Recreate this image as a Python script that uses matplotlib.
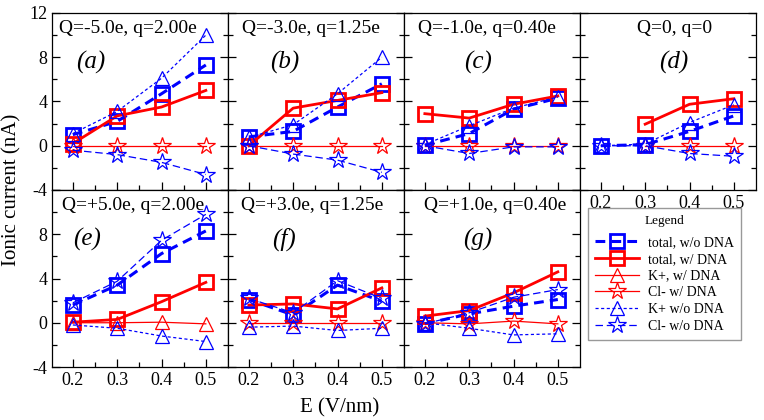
import numpy as np
import matplotlib
matplotlib.use("Agg")
import matplotlib.pyplot as plt

plt.rcParams["font.family"] = "serif"
plt.rcParams["font.serif"] = ["Liberation Serif", "DejaVu Serif"]
plt.rcParams["axes.unicode_minus"] = False

nan = np.nan

# field strength (V/nm)
E = [0.2, 0.3, 0.4, 0.5]

panel_tags = ["(a)", "(b)", "(c)", "(d)", "(e)", "(f)", "(g)"]
charge_labels = ["Q=-5.0e, q=2.00e", "Q=-3.0e, q=1.25e", "Q=-1.0e, q=0.40e", "Q=0, q=0",
                 "Q=+5.0e, q=2.00e", "Q=+3.0e, q=1.25e", "Q=+1.0e, q=0.40e"]

# ionic current (nA), one row per panel a..g
total_wo = [[1.0, 2.2, 4.7, 7.3],
            [0.8, 1.3, 3.5, 5.6],
            [0.05, 1.1, 3.3, 4.3],
            [0.0, 0.1, 1.3, 2.7],
            [1.6, 3.4, 6.25, 8.3],
            [2.1, 0.7, 3.4, 1.95],
            [-0.1, 0.8, 1.5, 2.1]]
total_w = [[0.2, 2.7, 3.5, 5.0],
           [0.0, 3.4, 4.1, 4.8],
           [2.9, 2.5, 3.75, 4.5],
           [nan, 1.95, 3.75, 4.25],
           [0.05, 0.3, 1.9, 3.65],
           [1.6, 1.7, 1.25, 3.15],
           [0.6, 1.1, 2.7, 4.6]]
kplus_w = [[nan] * 4, [nan] * 4, [nan] * 4, [nan] * 4,
           [0.0, 0.0, 0.05, -0.1],
           [nan] * 4, [nan] * 4]
cl_w = [[0.0, 0.0, 0.0, 0.0],
        [0.0, 0.0, 0.0, 0.0],
        [0.0, 0.0, 0.0, 0.0],
        [nan, 0.0, 0.0, 0.0],
        [nan] * 4,
        [0.0, 0.0, 0.0, 0.0],
        [0.0, -0.1, 0.15, -0.1]]
kplus_wo = [[1.1, 3.1, 6.1, 10.0],
            [0.75, 1.9, 4.7, 8.0],
            [0.1, 1.8, 3.4, 4.4],
            [0.0, 0.15, 2.1, 3.7],
            [-0.2, -0.5, -1.2, -1.7],
            [-0.4, -0.3, -0.7, -0.5],
            [0.0, -0.5, -1.1, -1.0]]
cl_wo = [[-0.4, -0.8, -1.5, -2.6],
         [0.0, -0.75, -1.3, -2.4],
         [0.0, -0.7, -0.1, -0.1],
         [0.0, 0.0, -0.7, -0.95],
         [1.8, 3.75, 7.45, 9.8],
         [2.2, 0.9, 3.8, 2.2],
         [-0.1, 0.9, 2.3, 3.0]]

# text placement inside each panel (axes fraction)
charge_x = [0.43, 0.47, 0.47, 0.54, 0.46, 0.48, 0.52]
tag_x = [0.22, 0.32, 0.42, 0.53, 0.20, 0.32, 0.42]

W, H = 764, 420
fig = plt.figure(figsize=(W / 100, H / 100), dpi=100)

left0, colw = 52, 176
rows = [(13, 190), (190, 367)]

blue, red = "#0000ff", "#ff0000"
axes = []
for i in range(7):
    r, c = divmod(i, 4)
    top, bot = rows[r]
    ax = fig.add_axes([(left0 + c * colw) / W, 1 - bot / H, colw / W, (bot - top) / H])
    axes.append(ax)

    h1, = ax.plot(E, total_wo[i], color=blue, lw=2.2, ls=(0, (3.2, 2)), marker="s",
                  ms=9.5, mfc="none", mec=blue, mew=2, label="total, w/o DNA")
    h2, = ax.plot(E, total_w[i], color=red, lw=2.0, ls="-", marker="s",
                  ms=9.5, mfc="none", mec=red, mew=2, label="total, w/ DNA")
    h3, = ax.plot(E, kplus_w[i], color=red, lw=0.9, ls="-", marker="^",
                  ms=10, mfc="none", mec=red, mew=0.9, label="K+, w/ DNA")
    h4, = ax.plot(E, cl_w[i], color=red, lw=0.9, ls="-", marker="*",
                  ms=13, mfc="none", mec=red, mew=0.9, label="Cl- w/ DNA")
    h5, = ax.plot(E, kplus_wo[i], color=blue, lw=0.9, ls=(0, (2.5, 2)), marker="^",
                  ms=10, mfc="none", mec=blue, mew=0.9, label="K+ w/o DNA")
    h6, = ax.plot(E, cl_wo[i], color=blue, lw=0.9, ls=(0, (6, 3)), marker="*",
                  ms=13, mfc="none", mec=blue, mew=0.9, label="Cl- w/o DNA")
    if i == 0:
        handles = [h1, h2, h3, h4, h5, h6]

    ax.set_xlim(0.153, 0.55)
    ax.set_ylim(-4, 12)
    ax.set_xticks(E)
    ax.set_xticks([0.25, 0.35, 0.45], minor=True)
    ax.set_yticks([-4, 0, 4, 8, 12])
    ax.set_yticks([-2, 2, 6, 10], minor=True)
    ax.tick_params(direction="in", which="major", length=6, labelsize=13, width=0.9)
    ax.tick_params(direction="in", which="minor", length=3.5, width=0.9)
    ax.tick_params(which="both", right=True)
    ax.set_xticklabels(["0.2", "0.3", "0.4", "0.5"])
    ax.set_yticklabels(["-4", "0", "4", "8", "12"])
    if c != 0:
        ax.tick_params(labelleft=False)
    if r == 0 and c != 3:
        ax.tick_params(labelbottom=False)
    if r == 1 and c == 0:
        ax.set_yticklabels(["-4", "0", "4", "8", ""])
    for s in ax.spines.values():
        s.set_linewidth(0.9)

    ax.text(charge_x[i], 0.915, charge_labels[i], transform=ax.transAxes,
            ha="center", va="center", fontsize=14)
    ax.text(tag_x[i], 0.72, panel_tags[i], transform=ax.transAxes,
            ha="center", va="center", fontsize=18, style="italic")

fig.text(12 / W, 1 - 190 / H, "Ionic current (nA)", rotation=90,
         ha="center", va="center", fontsize=15)
fig.text(340 / W, 1 - 408 / H, "E (V/nm)", ha="center", va="center", fontsize=15)

leg = fig.legend(handles=handles, loc="upper left",
                 bbox_to_anchor=(588 / W, 1 - 208 / H), borderaxespad=0,
                 title="Legend", title_fontsize=9.5, fontsize=10,
                 handlelength=3.2, handletextpad=0.6, labelspacing=0.27,
                 borderpad=0.5, fancybox=False, edgecolor="#999999", framealpha=1)
leg.get_frame().set_linewidth(1.0)
leg._legend_box.sep = 6.5

fig.savefig("out.png", dpi=100)
